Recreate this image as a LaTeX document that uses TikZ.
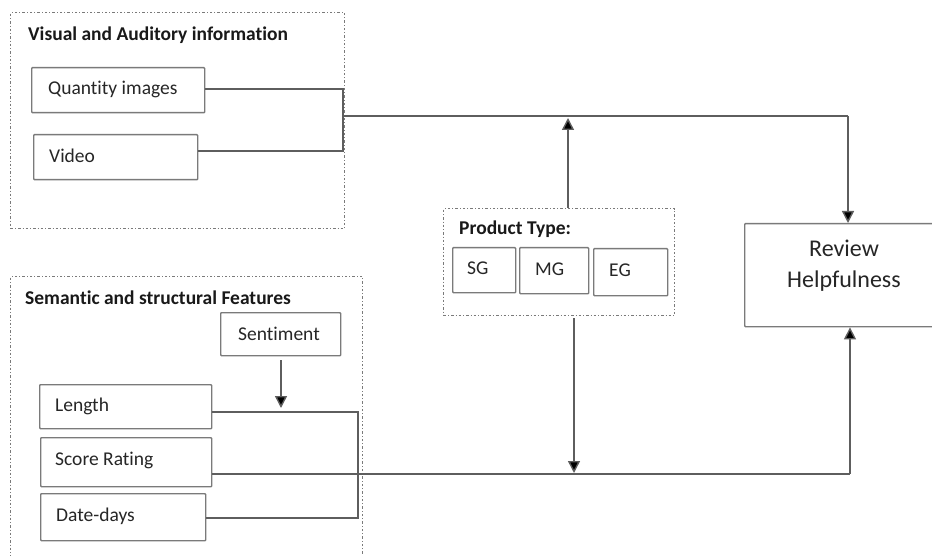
\documentclass[tikz,border=0pt]{standalone}
\usepackage{fontspec}
\setmainfont{Carlito}[Ligatures=NoCommon]
\usetikzlibrary{arrows.meta}
\definecolor{boxgray}{HTML}{7A7A7A}
\definecolor{linegray}{HTML}{5E5E5E}
\tikzset{
  fbox/.style={draw=boxgray, line width=1.4pt, rounded corners=0.8pt, anchor=north west, inner xsep=0pt, inner ysep=0pt},
  lbl/.style={anchor=west, inner sep=0pt, font=\fontsize{19.5}{22}\selectfont, text=black!85},
  grp/.style={draw=boxgray, line width=1.2pt, dash pattern=on 2.5pt off 2pt on 1pt off 2pt, anchor=north west, inner sep=0pt},
  ttl/.style={anchor=west, font=\bfseries\fontsize{19.5}{22}\selectfont, inner sep=0pt, text=black!90},
  conn/.style={draw=linegray, line width=1.4pt},
  arr/.style={conn, -{Triangle[length=12pt,width=12pt,fill=black]}},
}
\begin{document}
\begin{tikzpicture}[x=1pt,y=-1pt]
\clip (0,0) rectangle (932,556);
\fill[white] (0,0) rectangle (932,556);
% groups
\node[grp, minimum width=334pt, minimum height=216pt] (g1) at (10,12) {};
\node[ttl] (t1) at (28,35) {Visual and Auditory information};
\node[grp, minimum width=352pt, minimum height=300pt] (g2) at (10,276) {};
\node[ttl] (t2) at (25,298) {Semantic and structural Features};
\node[grp, minimum width=231pt, minimum height=107pt] (g3) at (443,208) {};
\node[ttl] (t3) at (459,229) {Product Type:};
% boxes
\node[fbox, minimum width=173pt, minimum height=45pt] (qi) at (31,67) {};
\node[lbl] (qit) at (48,89) {Quantity images};
\node[fbox, minimum width=164pt, minimum height=45pt] (vid) at (33,134) {};
\node[lbl] (vidt) at (49,156) {Video};
\node[fbox, minimum width=120pt, minimum height=43pt] (sen) at (220,312) {};
\node[lbl, anchor=center] (sent) at (279,334) {Sentiment};
\node[fbox, minimum width=172pt, minimum height=44pt] (len) at (39,384) {};
\node[lbl] (lent) at (55,406) {Length};
\node[fbox, minimum width=171pt, minimum height=49pt] (sco) at (40,437) {};
\node[lbl] (scot) at (55,460) {Score Rating};
\node[fbox, minimum width=165pt, minimum height=47pt] (dat) at (40,493) {};
\node[lbl] (datt) at (56,516) {Date-days};
\node[fbox, minimum width=63pt, minimum height=45pt] (sg) at (452,247) {};
\node[lbl] (sgt) at (467,268) {SG};
\node[fbox, minimum width=69pt, minimum height=46pt] (mg) at (519,247) {};
\node[lbl] (mgt) at (535,269) {MG};
\node[fbox, minimum width=74pt, minimum height=47pt] (eg) at (593,248) {};
\node[lbl] (egt) at (609,270) {EG};
\node[fbox, minimum width=200pt, minimum height=103pt] (rh) at (744,223) {};
\node[align=center, inner sep=0pt, font=\fontsize{24}{31}\selectfont, text=black!85] (rht) at (844,266) {Review\\Helpfulness};
% coordinates
\coordinate (b1) at (343,116);
\coordinate (j1) at (848,116);
\coordinate (b2) at (358,474);
\coordinate (j2) at (850,474);
% connectors
\draw[conn] (qi.east |- 0,89) -| (343,151) -- (vid.east |- 0,151);
\draw[conn] (b1) -- (j1);
\draw[arr] (j1) -- (848,223);
\draw[arr] (g3.north -| 568,0) -- (568,118);
\draw[arr] (574,318) -- (574,473);
\draw[conn] (len.east |- 0,412) -| (358,518) -- (dat.east |- 0,518);
\draw[conn] (sco.east |- 0,474) -- (j2);
\draw[arr] (j2) -- (rh.south -| 850,0);
\draw[arr] (281,360) -- (281,408);
\end{tikzpicture}
\end{document}
